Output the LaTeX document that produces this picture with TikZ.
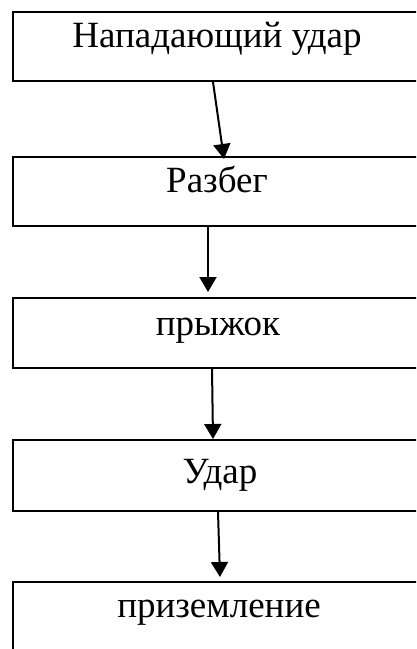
\documentclass[tikz,border=0pt]{standalone}
\usepackage{fontspec}
\setmainfont{Liberation Serif}
\usetikzlibrary{arrows.meta}
\begin{document}
\begin{tikzpicture}[x=1pt,y=-1pt,
  box/.style={draw,line width=2pt,rectangle,inner sep=0pt,minimum width=408pt},
  lbl/.style={anchor=base,inner sep=0pt,font=\fontsize{37}{40}\selectfont},
  conn/.style={line width=2pt,-{Triangle[width=17pt,length=15pt]}}]
\useasboundingbox (0,0) rectangle (416,649);
\begin{scope}
\clip (0,0) rectangle (416,649);
\node[box,minimum height=69pt] (b1) at (217,46.5) {};
\node[box,minimum height=69pt] (b2) at (217,191.5) {};
\node[box,minimum height=70pt] (b3) at (217,333) {};
\node[box,minimum height=71pt] (b4) at (217,475.5) {};
\node[box,minimum height=120pt] (b5) at (217,642) {};
\end{scope}
\node[lbl] (t1) at (217,47) {Нападающий удар};
\node[lbl] (t2) at (217,192) {Разбег};
\node[lbl] (t3) at (218,335) {прыжок};
\node[lbl] (t4) at (220,483) {Удар};
\node[lbl] (t5) at (219,617) {приземление};
\coordinate (a1s) at (213,82);
\coordinate (a1e) at (224,159);
\coordinate (a2s) at (208,227);
\coordinate (a2e) at (208,292);
\coordinate (a3s) at (212,368);
\coordinate (a3e) at (213,439);
\coordinate (a4s) at (218,512);
\coordinate (a4e) at (220,577);
\draw[conn] (a1s) -- (a1e);
\draw[conn] (a2s) -- (a2e);
\draw[conn] (a3s) -- (a3e);
\draw[conn] (a4s) -- (a4e);
\end{tikzpicture}
\end{document}
